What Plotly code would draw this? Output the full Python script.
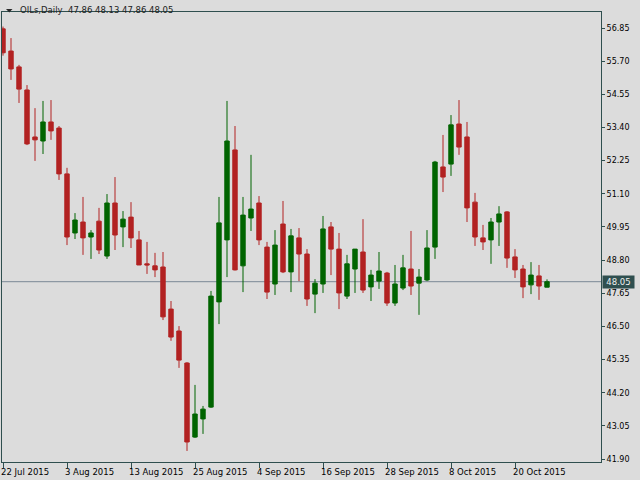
import plotly.graph_objects as go

dates = [
    "2015-07-22", "2015-07-23", "2015-07-24", "2015-07-27", "2015-07-28", "2015-07-29", "2015-07-30", "2015-07-31",
    "2015-08-03", "2015-08-04", "2015-08-05", "2015-08-06", "2015-08-07", "2015-08-10", "2015-08-11", "2015-08-12",
    "2015-08-13", "2015-08-14", "2015-08-17", "2015-08-18", "2015-08-19", "2015-08-20", "2015-08-21", "2015-08-24",
    "2015-08-25", "2015-08-26", "2015-08-27", "2015-08-28", "2015-08-31", "2015-09-01", "2015-09-02", "2015-09-03",
    "2015-09-04", "2015-09-07", "2015-09-08", "2015-09-09", "2015-09-10", "2015-09-11", "2015-09-14", "2015-09-15",
    "2015-09-16", "2015-09-17", "2015-09-18", "2015-09-21", "2015-09-22", "2015-09-23", "2015-09-24", "2015-09-25",
    "2015-09-28", "2015-09-29", "2015-09-30", "2015-10-01", "2015-10-02", "2015-10-05", "2015-10-06", "2015-10-07",
    "2015-10-08", "2015-10-09", "2015-10-12", "2015-10-13", "2015-10-14", "2015-10-15", "2015-10-16", "2015-10-19",
    "2015-10-20", "2015-10-21", "2015-10-22", "2015-10-23", "2015-10-26",
]

open_ = [
    56.82, 56.05, 55.50, 54.70, 53.07, 52.93, 53.59, 53.38, 51.79, 49.74,
    50.12, 49.60, 50.15, 48.94, 50.78, 49.95, 50.29, 49.50, 48.67, 48.60,
    48.56, 47.10, 46.34, 45.23, 42.66, 43.29, 43.70, 47.35, 49.50, 52.62,
    48.60, 50.26, 50.78, 49.25, 47.97, 50.05, 48.39, 49.57, 49.01, 47.62,
    47.97, 49.95, 49.18, 47.55, 48.49, 49.08, 47.87, 48.07, 48.35, 47.31,
    47.83, 48.49, 48.00, 48.11, 49.25, 52.03, 52.13, 53.52, 53.07, 50.81,
    49.57, 49.50, 50.12, 50.47, 48.91, 48.49, 47.94, 48.25, 47.86,
]
high = [
    56.90, 56.50, 55.57, 54.87, 54.07, 54.32, 54.35, 53.45, 52.00, 50.43,
    50.99, 49.84, 50.61, 51.09, 51.68, 50.50, 50.81, 49.81, 49.43, 49.05,
    49.08, 47.38, 46.51, 45.26, 44.47, 43.74, 47.73, 50.99, 54.32, 53.45,
    50.99, 52.45, 51.02, 49.43, 49.84, 50.85, 49.88, 49.91, 49.18, 48.14,
    50.33, 50.12, 49.74, 48.98, 49.18, 50.22, 48.46, 49.08, 48.39, 48.63,
    48.98, 49.81, 48.49, 49.84, 52.24, 53.14, 53.83, 54.35, 53.59, 51.13,
    50.02, 50.26, 50.67, 50.50, 49.18, 48.63, 48.73, 48.63, 48.13,
]
low = [
    55.89, 55.05, 54.25, 52.79, 52.24, 52.48, 52.97, 51.58, 49.32, 49.53,
    48.98, 48.84, 49.01, 48.84, 49.15, 49.25, 49.22, 49.15, 48.32, 48.21,
    46.72, 46.00, 45.06, 42.18, 42.63, 42.77, 43.67, 46.58, 48.21, 48.44,
    47.69, 49.81, 49.32, 47.45, 47.59, 48.35, 47.69, 48.07, 47.21, 46.96,
    47.66, 48.28, 47.10, 47.45, 47.66, 47.66, 47.38, 47.80, 47.21, 47.21,
    47.76, 47.59, 46.90, 48.07, 48.84, 51.16, 51.72, 52.45, 50.12, 49.29,
    49.15, 48.67, 49.29, 48.53, 48.18, 47.48, 47.62, 47.42, 47.86,
]
close = [
    55.99, 55.43, 54.73, 52.83, 52.97, 53.59, 53.28, 51.79, 49.60, 50.19,
    49.57, 49.74, 49.15, 50.78, 49.67, 50.22, 49.57, 48.63, 48.63, 48.46,
    46.83, 46.13, 45.33, 42.49, 43.46, 43.63, 47.55, 50.09, 52.93, 48.46,
    50.36, 50.57, 49.50, 47.69, 49.32, 48.39, 49.64, 49.01, 47.45, 48.00,
    49.88, 49.18, 47.66, 48.67, 49.18, 47.76, 48.28, 48.42, 47.31, 47.97,
    48.53, 47.90, 48.21, 49.22, 52.20, 51.68, 53.49, 52.72, 50.61, 49.60,
    49.43, 50.12, 50.40, 48.87, 48.46, 47.87, 48.28, 47.90, 48.05,
]

x_tick_dates = ["2015-07-22", "2015-08-03", "2015-08-13", "2015-08-25", "2015-09-04",
                "2015-09-16", "2015-09-28", "2015-10-08", "2015-10-20"]
x_tick_labels = ["22 Jul 2015", "3 Aug 2015", "13 Aug 2015", "25 Aug 2015", "4 Sep 2015",
                 "16 Sep 2015", "28 Sep 2015", "8 Oct 2015", "20 Oct 2015"]
y_ticks = [56.85, 55.70, 54.55, 53.40, 52.25, 51.10, 49.95, 48.80, 47.65,
           46.50, 45.35, 44.20, 43.05, 41.90]
last_price = 48.05
title_text = "OILs,Daily  47.86 48.13 47.86 48.05"

BG = "#dcdcdc"
FRAME = "#2f4f4f"
FONT = "DejaVu Sans"

# plot-area pixel geometry
L, R, T, B = 2, 601, 12, 462
W, H = 640, 480


def px(xp):
    return (xp - L) / (R - L)


def py(yp):
    return (B - yp) / (B - T)


fig = go.Figure(go.Candlestick(
    x=dates, open=open_, high=high, low=low, close=close,
    increasing=dict(line=dict(color="#006400", width=1), fillcolor="#006400"),
    decreasing=dict(line=dict(color="#b22222", width=1), fillcolor="#b22222"),
    whiskerwidth=0, hoverinfo="skip", showlegend=False,
))

fig.update_layout(
    width=W, height=H,
    margin=dict(l=L, r=W - R, t=T, b=H - B, pad=0),
    paper_bgcolor=BG, plot_bgcolor=BG,
    boxgap=0.45, boxgroupgap=0,
    font=dict(family=FONT, size=8, color="#000000"),
    showlegend=False,
)

fig.update_xaxes(
    type="category", categoryorder="array", categoryarray=dates,
    range=[-0.125, 74.75],
    showgrid=False, zeroline=False,
    showline=True, mirror=True, linecolor=FRAME, linewidth=1,
    ticks="outside", ticklen=5, tickcolor=FRAME, tickwidth=1,
    tickvals=x_tick_dates, ticktext=x_tick_labels,
    ticklabelposition="outside right",
    ticklabelstandoff=2, ticklabelshift=-3,
    tickfont=dict(family=FONT, size=8.5, color="#000000"),
    rangeslider=dict(visible=False), fixedrange=True,
)

fig.update_yaxes(
    side="right", range=[41.796, 57.405],
    showgrid=False, zeroline=False,
    showline=True, mirror=True, linecolor=FRAME, linewidth=1,
    ticks="outside", ticklen=3, tickcolor=FRAME, tickwidth=1,
    tickvals=y_ticks, ticktext=[f"{v:.2f}" for v in y_ticks],
    tickfont=dict(family=FONT, size=8, color="#000000"),
    fixedrange=True,
)

# last price line
fig.add_shape(type="line", xref="paper", yref="y", x0=0, x1=1, y0=last_price, y1=last_price,
              line=dict(color="#7a8896", width=1), layer="below")

# last price label
fig.add_annotation(xref="paper", yref="y", x=1, y=last_price, xanchor="left", yanchor="middle",
                   text=f"{last_price:.2f}", showarrow=False, xshift=1,
                   bgcolor=FRAME, font=dict(family=FONT, size=8.5, color="#f0f0f0"),
                   width=31, height=12, borderpad=0, align="center")

# title triangle
fig.add_shape(type="path", xref="paper", yref="paper",
              path=f"M {px(6)} {py(9)} L {px(12.5)} {py(9)} L {px(9.25)} {py(12.5)} Z",
              fillcolor="#2a2a2a", line=dict(width=0))

# title
fig.add_annotation(xref="paper", yref="paper", x=px(18), y=py(10.5), xanchor="left", yanchor="middle",
                   text=title_text.replace("  ", "&nbsp;&nbsp;"), showarrow=False,
                   font=dict(family=FONT, size=8.5, color="#222222"))

fig.write_html(
    "out.html",
    config={"displayModeBar": False, "staticPlot": True},
    post_script="document.body.style.margin='0';document.body.style.background='" + BG + "';",
)
